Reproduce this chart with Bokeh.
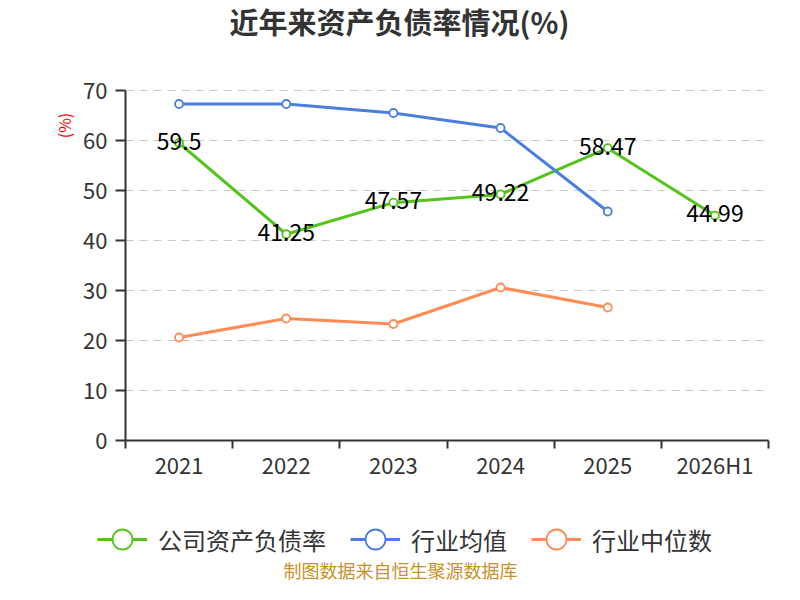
import math
from bokeh.plotting import figure
from bokeh.models import (Range1d, LinearAxis, FixedTicker, Legend, LegendItem,
                          Label, ColumnDataSource)
from bokeh.embed import file_html
from bokeh.resources import INLINE
from bokeh.core.properties import value

# ---- data ----
categories = ["2021", "2022", "2023", "2024", "2025", "2026H1"]
company_ratio = [59.5, 41.25, 47.57, 49.22, 58.47, 44.99]
industry_avg = [67.3, 67.3, 65.5, 62.5, 45.8]
industry_median = [20.6, 24.4, 23.3, 30.6, 26.6]
y_ticks = [0, 10, 20, 30, 40, 50, 60, 70]
series_names = ["公司资产负债率", "行业均值", "行业中位数"]
title_text = "近年来资产负债率情况(%)"
unit_text = "(%)"
source_text = "制图数据来自恒生聚源数据库"

FONT = "Noto Sans CJK SC"
GREEN = "#52c41a"
BLUE = "#4a7fe0"
ORANGE = "#ff8b55"
TXT = "#333333"

# ---- layout (pixels) ----
W, H = 784, 584
PL, PR, PT, PB = 125, 768, 90, 440   # plot area edges
n = len(categories)
ymax = y_ticks[-1]
ux = (PR - PL) / n
uy = (PB - PT) / ymax

xpos = [i + 0.5 for i in range(n)]
bounds = list(range(n + 1))

p = figure(width=W, height=H,
           x_range=Range1d(-PL / ux, (W - PL) / ux),
           y_range=Range1d(-(H - PB) / uy, ymax + PT / uy),
           x_axis_type=None, y_axis_type=None, output_backend="svg",
           toolbar_location=None, min_border=0, outline_line_color=None)
p.title = None
p.xgrid.visible = False
p.ygrid.visible = False

# dashed horizontal grid lines across the plot area
p.segment(x0=[0] * (len(y_ticks) - 1), x1=[n] * (len(y_ticks) - 1),
          y0=y_ticks[1:], y1=y_ticks[1:], line_color="#c8c8c8",
          line_dash="8 6", line_width=1)

# y axis
yaxis = LinearAxis(fixed_location=0, bounds=(0, ymax), ticker=FixedTicker(ticks=y_ticks),
                   axis_line_color=TXT, axis_line_width=2,
                   major_tick_line_color=TXT, major_tick_line_width=2, major_tick_in=0,
                   major_tick_out=10, minor_tick_line_color=None,
                   major_label_text_font=FONT, major_label_text_font_size="22px",
                   major_label_text_color=TXT, major_label_standoff=8)
p.add_layout(yaxis, "left")

# x axis: line and ticks at band boundaries
xtick = LinearAxis(fixed_location=0, bounds=(0, n), ticker=FixedTicker(ticks=bounds),
                   axis_line_color=TXT, axis_line_width=2,
                   major_tick_line_color=TXT, major_tick_line_width=2, major_tick_in=0,
                   major_tick_out=8, minor_tick_line_color=None,
                   major_label_text_font_size="1px", major_label_text_alpha=0,
                   major_label_standoff=0)
p.add_layout(xtick, "below")

# x axis: category labels at band centres
xlab = LinearAxis(fixed_location=0, ticker=FixedTicker(ticks=xpos),
                  major_label_overrides={x: c for x, c in zip(xpos, categories)},
                  axis_line_color=None, major_tick_line_color=None, minor_tick_line_color=None,
                  major_tick_in=0, major_tick_out=0,
                  major_label_text_font=FONT, major_label_text_font_size="22px",
                  major_label_text_color=TXT, major_label_standoff=7)
p.add_layout(xlab, "below")

def series(xs, ys, color):
    src = ColumnDataSource(dict(x=xs, y=ys))
    lr = p.line("x", "y", source=src, line_color=color, line_width=3)
    sr = p.scatter("x", "y", source=src, size=8, fill_color="white",
                   line_color=color, line_width=1.8)
    return [lr, sr]

g = series(xpos, company_ratio, GREEN)
b = series(xpos[:len(industry_avg)], industry_avg, BLUE)
o = series(xpos[:len(industry_median)], industry_median, ORANGE)

# data labels for company series
p.text(x=xpos, y=company_ratio, text=[f"{v:g}" for v in company_ratio],
       text_align="center", text_baseline="middle", text_color="black",
       text_font=value(FONT), text_font_size="23px", y_offset=-2)

# texts (screen units measured from the bottom-left corner)
p.add_layout(Label(x=399, y=H - 20, x_units="screen", y_units="screen", text=title_text,
                   text_align="center", text_baseline="middle", text_font=FONT,
                   text_font_size="29px", text_font_style="bold", text_color=TXT))
p.add_layout(Label(x=63, y=H - 125, x_units="screen", y_units="screen", text=unit_text,
                   angle=math.pi / 2, text_align="center", text_baseline="middle",
                   text_color="red", text_font=FONT, text_font_size="16px"))
p.add_layout(Label(x=400, y=H - 569, x_units="screen", y_units="screen", text=source_text,
                   text_align="center", text_baseline="middle", text_font=FONT,
                   text_font_size="18px", text_color="#c8922a"))

legend = Legend(items=[LegendItem(label=series_names[0], renderers=g),
                       LegendItem(label=series_names[1], renderers=b),
                       LegendItem(label=series_names[2], renderers=o)],
                orientation="horizontal", location=(97, H - 564),
                glyph_width=50, glyph_height=50, label_height=50,
                label_text_font=FONT, label_text_font_size="24px", label_text_color=TXT,
                label_standoff=11, spacing=24, padding=0, margin=0,
                border_line_color=None, background_fill_alpha=0)
p.add_layout(legend, "center")

open("out.html", "w").write(file_html(p, INLINE))
